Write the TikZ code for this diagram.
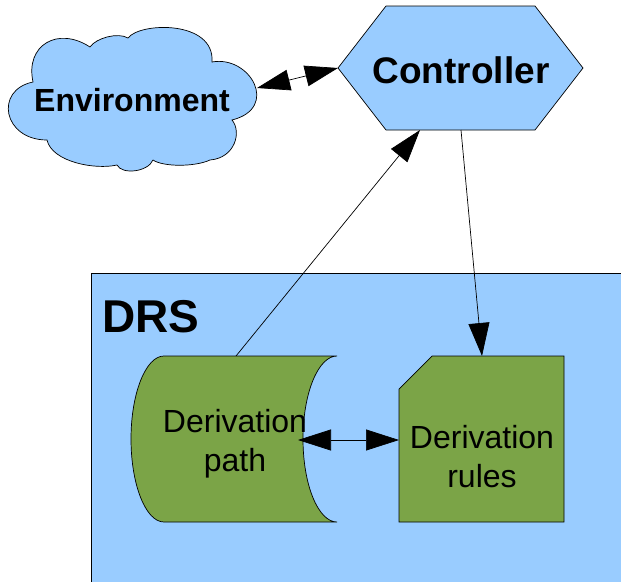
\documentclass[tikz,border=0pt]{standalone}
\usepackage{fontspec}
\setmainfont{Liberation Sans}
\usetikzlibrary{arrows.meta}
\definecolor{lblue}{RGB}{153,204,255}
\definecolor{dgreen}{RGB}{123,164,71}
\begin{document}
\begin{tikzpicture}[x=1pt,y=-1pt,
  every node/.style={inner sep=0pt},
  blueshape/.style={draw=black, line width=0.7pt, fill=lblue},
  greenshape/.style={draw=black, line width=0.7pt, fill=dgreen},
  conn/.style={draw=black, line width=0.7pt, >={Triangle[length=33pt,width=21pt]}},
  labelbig/.style={font=\fontsize{37}{40}\selectfont\bfseries},
  labelmid/.style={font=\fontsize{32}{36}\selectfont\bfseries},
  labelbody/.style={font=\fontsize{32}{39}\selectfont, align=center}]
\useasboundingbox (0,0) rectangle (621,581);
% DRS container
\draw[blueshape] (91,273) rectangle (660,620);
\node[anchor=base west, font=\fontsize{46}{50}\selectfont\bfseries] (drs) at (102,332) {DRS};
% Derivation path (stored data shape)
\draw[greenshape] (164,356) .. controls (145.8,356) and (131,393.2) .. (131,439)
  .. controls (131,484.8) and (145.8,522) .. (164,522) -- (337,522)
  .. controls (318.2,522) and (303,484.8) .. (303,439)
  .. controls (303,393.2) and (318.2,356) .. (337,356) -- cycle;
\node[labelbody] (dpath) at (235,444) {Derivation\\path};
% Derivation rules (card shape)
\draw[greenshape] (432,356) -- (564,356) -- (564,522) -- (399,522) -- (399,389) -- cycle;
\node[labelbody] (drules) at (482,457) {Derivation\\rules};
% Environment cloud
\draw[blueshape] (47,140) .. controls (3,140) and (-6,90) .. (33,82)
  .. controls (25,45) and (58,26) .. (90,47)
  .. controls (96,38) and (118,32) .. (128,38)
  .. controls (140,22) and (215,20) .. (212,62)
  .. controls (250,55) and (280,108) .. (232,120)
  .. controls (242,132) and (235,158) .. (210,160)
  .. controls (195,167) and (163,167) .. (153,160)
  .. controls (148,172) and (122,175) .. (117,165)
  .. controls (95,170) and (52,162) .. (47,140) -- cycle;
\node[labelmid, anchor=base] (env) at (132,111) {Environment};
% Controller hexagon
\draw[blueshape] (338,68) -- (386,6) -- (535,6) -- (583,68) -- (535,130) -- (386,130) -- cycle;
\node[labelbig, anchor=base] (ctrl) at (461,83) {Controller};
% connector end points
\coordinate (envR) at (257,88);
\coordinate (ctrlW) at (338,68);
\coordinate (ctrlS1) at (420,130);
\coordinate (ctrlS2) at (461,130);
\coordinate (dpN) at (236,356);
\coordinate (drN) at (482,356);
\coordinate (dpE) at (298,440);
\coordinate (drW) at (399,440);
% connectors
\draw[conn,<->] (envR) -- (ctrlW);
\draw[conn,->] (dpN) -- (ctrlS1);
\draw[conn,->] (ctrlS2) -- (drN);
\draw[conn,<->] (dpE) -- (drW);
\end{tikzpicture}
\end{document}
